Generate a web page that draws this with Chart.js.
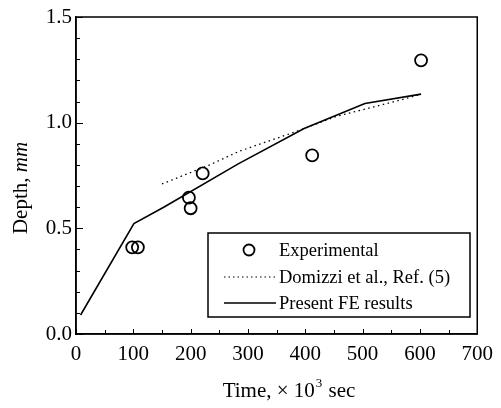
<!DOCTYPE html>
<html><head><meta charset="utf-8">
<script src="https://cdn.jsdelivr.net/npm/chart.js@4.4.0/dist/chart.umd.min.js"></script>
<style>html,body{margin:0;padding:0;background:#fff}canvas{display:block}</style>
</head><body>
<canvas id="c" width="501" height="408"></canvas>
<script>
const expTime = [98, 108, 197, 200, 221, 412, 602];
const expDepth = [0.41, 0.41, 0.645, 0.595, 0.76, 0.845, 1.295];
const domTime = [150, 233, 285, 386, 455, 570, 602];
const domDepth = [0.71, 0.80, 0.865, 0.96, 1.03, 1.11, 1.135];
const feTime = [8, 101, 153, 283, 398, 504, 602];
const feDepth = [0.09, 0.523, 0.60, 0.805, 0.972, 1.091, 1.135];
const xTicks = [0, 100, 200, 300, 400, 500, 600, 700];
const yTicks = [0.0, 0.5, 1.0, 1.5];
const labels = ['Experimental', 'Domizzi et al., Ref. (5)', 'Present FE results'];

const FONT = '"Liberation Serif", "Times New Roman", serif';
const pts = (xs, ys) => xs.map((x, i) => ({x, y: ys[i]}));

const decor = {
  id: 'decor',
  afterDraw(chart) {
    const ctx = chart.ctx, a = chart.chartArea;
    const xs = chart.scales.x, ys = chart.scales.y;
    ctx.save();
    ctx.strokeStyle = '#000';
    ctx.lineWidth = 1.5;
    ctx.strokeRect(a.left, a.top, a.right - a.left, a.bottom - a.top);
    ctx.lineWidth = 1;
    ctx.beginPath();
    for (let v = 0; v <= 700; v += 50) {
      const px = Math.round(xs.getPixelForValue(v)) + 0.5;
      const len = (v % 100 === 0) ? 5 : 4;
      ctx.moveTo(px, a.bottom); ctx.lineTo(px, a.bottom - len);
    }
    for (let k = 0; k <= 15; k++) {
      const v = k / 10;
      const py = Math.round(ys.getPixelForValue(v)) + 0.5;
      const len = (k % 5 === 0) ? 7 : 4;
      ctx.moveTo(a.left, py); ctx.lineTo(a.left + len, py);
    }
    ctx.stroke();

    // axis titles
    ctx.fillStyle = '#000';
    ctx.textBaseline = 'alphabetic';
    const f1 = '21px ' + FONT, fs = '13px ' + FONT;
    const p1 = 'Time, \u00d7 10', p2 = '3', p3 = ' sec';
    ctx.font = f1; const w1 = ctx.measureText(p1).width, w3 = ctx.measureText(p3).width;
    ctx.font = fs; const w2 = ctx.measureText(p2).width;
    let x0 = 289 - (w1 + w2 + w3 + 2) / 2, by = 397;
    ctx.font = f1; ctx.textAlign = 'left'; ctx.fillText(p1, x0, by);
    ctx.font = fs; ctx.fillText(p2, x0 + w1 + 1, by - 10);
    ctx.font = f1; ctx.fillText(p3, x0 + w1 + w2 + 2, by);
    // y title
    ctx.save();
    ctx.translate(27, 188);
    ctx.rotate(-Math.PI / 2);
    const q1 = 'Depth, ', q2 = 'mm';
    const fi = 'italic 21px ' + FONT;
    ctx.font = f1; const v1 = ctx.measureText(q1).width;
    ctx.font = fi; const v2 = ctx.measureText(q2).width;
    let s = -(v1 + v2) / 2;
    ctx.font = f1; ctx.fillText(q1, s, 0);
    ctx.font = fi; ctx.fillText(q2, s + v1, 0);
    ctx.restore();

    // legend
    const L = 208, T = 233, R = 470, B = 317;
    ctx.fillStyle = '#fff';
    ctx.fillRect(L, T, R - L, B - T);
    ctx.lineWidth = 1.5;
    ctx.strokeRect(L, T, R - L, B - T);
    const rows = [250, 277, 303];
    ctx.font = '18.5px ' + FONT; ctx.fillStyle = '#000';
    ctx.textBaseline = 'middle'; ctx.textAlign = 'left';
    chart.data.datasets.forEach((d, i) => {
      const y = rows[i];
      if (i === 0) {
        ctx.lineWidth = 1.8; ctx.beginPath(); ctx.arc(249, y, 5.5, 0, 2 * Math.PI); ctx.stroke();
      } else {
        ctx.lineWidth = i === 1 ? 1.2 : 1.6;
        ctx.setLineDash(i === 1 ? [1.5, 3] : []);
        ctx.beginPath(); ctx.moveTo(224, y); ctx.lineTo(276, y); ctx.stroke();
        ctx.setLineDash([]);
      }
      ctx.fillText(d.label, 279, y + 1);
    });
    ctx.restore();
  }
};

new Chart(document.getElementById('c'), {
  type: 'scatter',
  data: {
    datasets: [
      { label: labels[0], data: pts(expTime, expDepth), showLine: false,
        pointStyle: 'circle', pointRadius: 6, pointBorderWidth: 1.8,
        pointBorderColor: '#000', pointBackgroundColor: 'rgba(0,0,0,0)' },
      { label: labels[1], data: pts(domTime, domDepth), showLine: true,
        borderColor: '#000', borderWidth: 1.3, borderDash: [1.5, 3.5], pointRadius: 0, tension: 0 },
      { label: labels[2], data: pts(feTime, feDepth), showLine: true,
        borderColor: '#000', borderWidth: 1.6, pointRadius: 0, tension: 0 }
    ]
  },
  options: {
    responsive: false, animation: false,
    layout: { padding: { left: 0, top: 17, right: 19, bottom: 0 } },
    plugins: { legend: { display: false }, tooltip: { enabled: false } },
    scales: {
      x: {
        type: 'linear', min: 0, max: 700,
        afterBuildTicks: s => { s.ticks = xTicks.map(v => ({value: v})); },
        afterFit: s => { s.height = 74; },
        grid: { display: false, drawTicks: false },
        border: { display: true, color: '#000', width: 1.5 },
        ticks: { color: '#000', padding: 8, maxRotation: 0, font: { family: FONT, size: 21 } }
      },
      y: {
        type: 'linear', min: 0, max: 1.5,
        afterBuildTicks: s => { s.ticks = yTicks.map(v => ({value: v})); },
        afterFit: s => { s.width = 76; },
        grid: { display: false, drawTicks: false },
        border: { display: true, color: '#000', width: 1.5 },
        ticks: { color: '#000', padding: 4, font: { family: FONT, size: 21 },
                 callback: v => Number(v).toFixed(1) }
      }
    }
  },
  plugins: [decor]
});
</script>
</body></html>
